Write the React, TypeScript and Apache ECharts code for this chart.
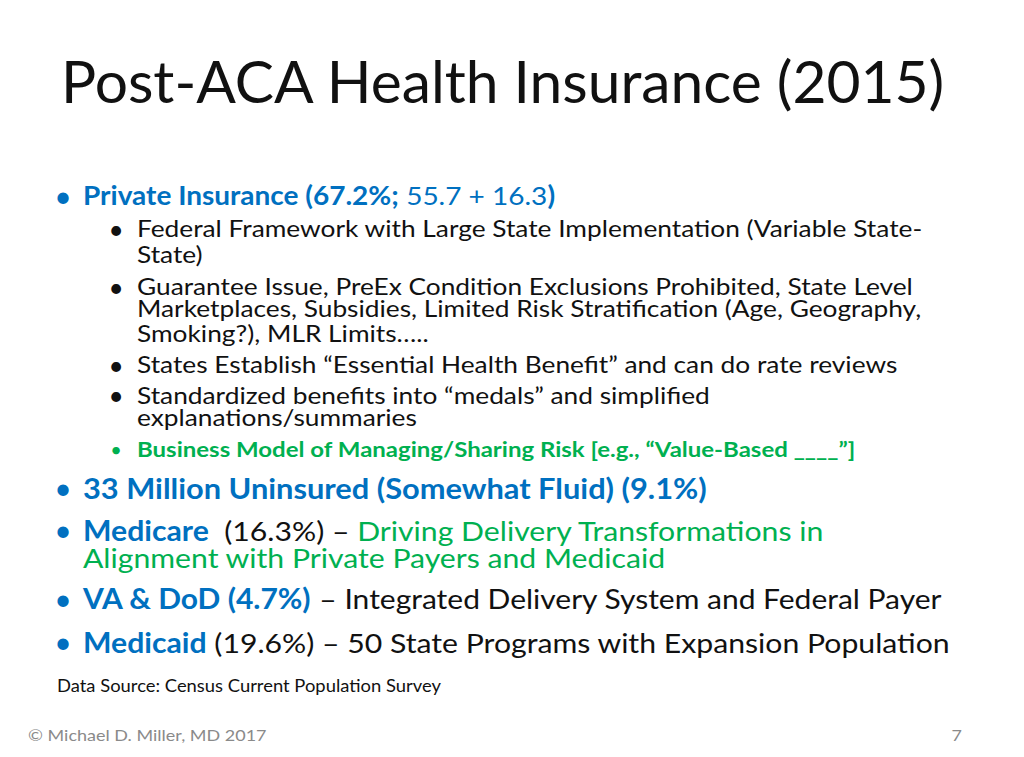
import React, { useEffect, useRef } from "react";
import * as echarts from "echarts";

const titleText = "Post-ACA Health Insurance (2015)";
const payerNames = ["Private Insurance", "Uninsured", "Medicare", "VA & DoD", "Medicaid"];
const payerShares = [67.2, 9.1, 16.3, 4.7, 19.6];
const privateParts = [55.7, 16.3];
const uninsuredMillions = 33;
const privateSubBullets = [
  ["Federal Framework with Large State Implementation (Variable State-", "State)"],
  ["Guarantee Issue, PreEx Condition Exclusions Prohibited, State Level", "Marketplaces, Subsidies, Limited Risk Stratification (Age, Geography,", "Smoking?), MLR Limits….."],
  ["States Establish \u201cEssential Health Benefit\u201d and can do rate reviews"],
  ["Standardized benefits into \u201cmedals\u201d and simplified", "explanations/summaries"],
];
const greenSubBullet = "Business Model of Managing/Sharing Risk [e.g., \u201cValue-Based ____\u201d]";
const sourceText = "Data Source: Census Current Population Survey";
const footerText = "\u00a9 Michael D. Miller, MD 2017";
const pageNumber = "7";

const BLUE = "#0070C0";
const GREEN = "#00B050";
const BLACK = "#111111";
const GRAY = "#8a8a8a";
const FONT = "Lato";

export default function App() {
  const ref = useRef<HTMLDivElement>(null);
  useEffect(() => {
    document.body.style.margin = "0";
    if (!ref.current) return;
    const chart = echarts.init(ref.current, null, { renderer: "svg" });
    const mainSize = 30.2;
    const subSize = 26.3;
    const mainScale = 0.92;
    const subScale = 0.86;
    const els: any[] = [];
    const mkRich = (size: number) => ({
      bb: { fontFamily: FONT, fontSize: size, fontWeight: "bold", fill: BLUE },
      bn: { fontFamily: FONT, fontSize: size, fill: BLUE },
      k: { fontFamily: FONT, fontSize: size, fill: BLACK },
      g: { fontFamily: FONT, fontSize: size, fill: GREEN },
    });
    const txt = (x: number, y: number, text: string, style: any, scaleY = 1) => {
      els.push({ type: "text", x, y, scaleY, silent: true, style: { text, verticalAlign: "middle", fontFamily: FONT, ...style } });
    };
    const bullet = (x: number, y: number, size: number, color: string) =>
      txt(x, y, "\u2022", { fontSize: size, fill: color, align: "center" });

    txt(61, 80, titleText, { fontSize: 58.7, fill: BLACK });

    // Private insurance
    bullet(63, 195, mainSize, BLUE);
    txt(83, 195, `{bb|${payerNames[0]} (${payerShares[0]}%;}{bn| ${privateParts[0]} + ${privateParts[1]}}{bb|)}`, { rich: mkRich(28) }, mainScale);

    const subYs = [[228.5, 254.5], [286.5, 308.5, 333], [364.5], [395, 417.5]];
    privateSubBullets.forEach((lines, i) => {
      bullet(116, subYs[i][0], subSize, BLACK);
      lines.forEach((l, j) => txt(137, subYs[i][j], l, { fontSize: subSize, fill: BLACK }, subScale));
    });
    bullet(116, 449, 20, GREEN);
    txt(137, 449, greenSubBullet, { fontSize: 24, fontWeight: "bold", fill: GREEN }, 0.84);

    bullet(63, 487, mainSize, BLUE);
    txt(83, 487.5, `{bb|${uninsuredMillions} Million Uninsured (Somewhat Fluid) (${payerShares[1]}%)}`, { rich: mkRich(30.8) }, mainScale);

    bullet(63, 529, mainSize, BLUE);
    txt(83, 529.5, `{bb|${payerNames[2]}}{k|  (${payerShares[2]}%) \u2013 }{g|Driving Delivery Transformations in}`, { rich: mkRich(mainSize) }, mainScale);
    txt(83, 556.5, "Alignment with Private Payers and Medicaid", { fontSize: mainSize, fill: GREEN }, mainScale);

    bullet(63, 598, mainSize, BLUE);
    txt(83, 598.5, `{bb|${payerNames[3]} (${payerShares[3]}%)}{k| \u2013 Integrated Delivery System and Federal Payer}`, { rich: mkRich(30) }, mainScale);

    bullet(63, 641, mainSize, BLUE);
    txt(83, 641.5, `{bb|${payerNames[4]}}{k| (${payerShares[4]}%) \u2013 50 State Programs with Expansion Population}`, { rich: mkRich(mainSize) }, mainScale);

    txt(57, 686, sourceText, { fontSize: 18.4, fill: BLACK }, 0.9);
    txt(28, 735, footerText, { fontSize: 18, fill: GRAY }, 0.9);
    txt(962, 735, pageNumber, { fontSize: 18, fill: GRAY, align: "right" }, 0.9);

    chart.setOption({ animation: false, backgroundColor: "#ffffff", graphic: { elements: els } });
    return () => chart.dispose();
  }, []);
  return <div ref={ref} style={{ width: 1024, height: 757 }} />;
}
